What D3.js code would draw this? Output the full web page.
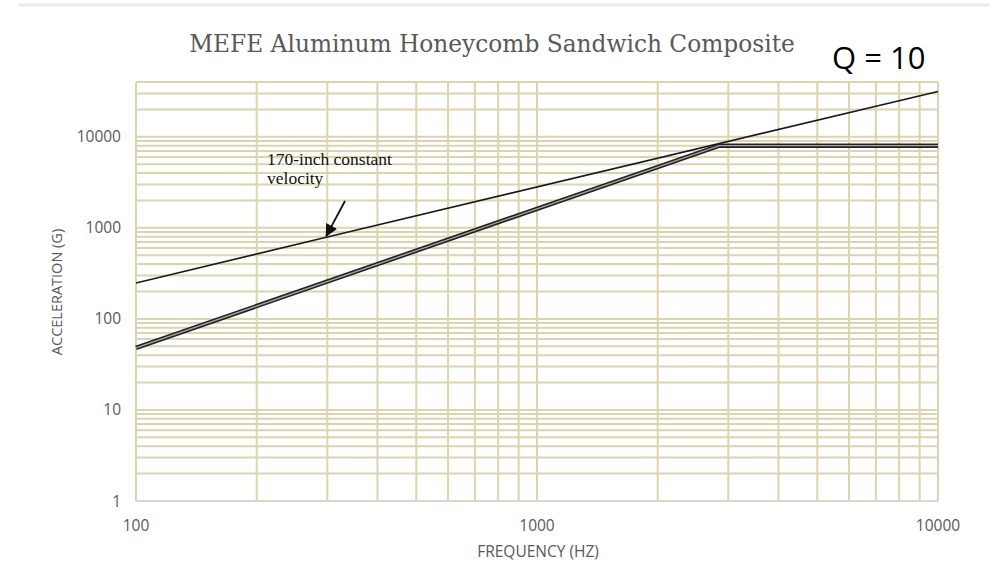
<!DOCTYPE html>
<html>
<head>
<meta charset="utf-8">
<script src="https://cdn.jsdelivr.net/npm/d3@7"></script>
<style>
  body { margin: 0; background: #fff; }
  svg { display: block; }
</style>
</head>
<body>
<svg id="chart" width="992" height="565"></svg>
<script>
// values
const velocityLine = [[100, 248], [300, 795], [10000, 31500]];
const mefeLine = [[100, 48], [1000, 1620], [2850, 8000], [10000, 8000]];
const xTicks = [100, 1000, 10000];
const yTicks = [1, 10, 100, 1000, 10000];
const annotation = ['170-inch constant', 'velocity'];

const svg = d3.select('#chart');
const plotLeft = 136, plotRight = 938, plotTop = 82, plotBottom = 501;

const x = d3.scaleLog().domain([100, 10000]).range([plotLeft, plotRight]);
const y = d3.scaleLog().domain([1, 40000]).range([plotBottom, plotTop]);

// faint rule across the top of the picture
svg.append('line').attr('x1', 18).attr('x2', 990).attr('y1', 5).attr('y2', 5)
  .attr('stroke', '#ececec').attr('stroke-width', 3);

// grid lines on every minor value
const xGrid = [];
for (let d = 100; d < 10000; d *= 10) {
  for (let k = 1; k <= 9; k++) xGrid.push(d * k);
}
xGrid.push(10000);
const yGrid = [];
for (let d = 1; d < 40000; d *= 10) {
  for (let k = 1; k <= 9; k++) if (d * k <= 40000) yGrid.push(d * k);
}

const grid = svg.append('g').attr('stroke', '#ddd3ae').attr('stroke-width', 2);
grid.selectAll('.h').data(yGrid).enter().append('line')
  .attr('x1', plotLeft).attr('x2', plotRight)
  .attr('y1', d => y(d)).attr('y2', d => y(d));
grid.selectAll('.v').data(xGrid).enter().append('line')
  .attr('y1', plotTop).attr('y2', plotBottom)
  .attr('x1', d => x(d)).attr('x2', d => x(d));

// bottom axis rule
svg.append('line').attr('x1', plotLeft).attr('x2', plotRight).attr('y1', plotBottom).attr('y2', plotBottom)
  .attr('stroke', '#d9d9d9').attr('stroke-width', 1.5);

// tick labels
const tickFont = '"Open Sans", sans-serif';
svg.append('g').selectAll('text').data(yTicks).enter().append('text')
  .attr('x', 121).attr('y', d => y(d) + 5.5)
  .attr('text-anchor', 'end').attr('fill', '#595959')
  .style('font', `15.5px ${tickFont}`).text(d => d);
svg.append('g').selectAll('text').data(xTicks).enter().append('text')
  .attr('x', d => x(d)).attr('y', 531)
  .attr('text-anchor', 'middle').attr('fill', '#595959')
  .style('font', `15.5px ${tickFont}`).text(d => d);

// axis titles
svg.append('text').attr('x', 538).attr('y', 557).attr('text-anchor', 'middle')
  .attr('fill', '#595959').style('font', `15.5px ${tickFont}`).text('FREQUENCY (HZ)');
svg.append('text').attr('transform', 'translate(62,292) rotate(-90)').attr('text-anchor', 'middle')
  .attr('fill', '#595959').style('font', `14.5px ${tickFont}`).text('ACCELERATION (G)');

// title and Q label
svg.append('text').attr('x', 492).attr('y', 52).attr('text-anchor', 'middle')
  .attr('fill', '#595959').style('font', '23.3px "DejaVu Serif", serif')
  .text('MEFE Aluminum Honeycomb Sandwich Composite');
svg.append('text').attr('x', 832).attr('y', 69)
  .attr('fill', '#000').style('font', '31px "Open Sans", sans-serif').text('Q = 10');

// lines
const line = d3.line().x(d => x(d[0])).y(d => y(d[1]));
svg.append('path').datum(velocityLine).attr('d', line)
  .attr('fill', 'none').attr('stroke', '#1a1a1a').attr('stroke-width', 1.6);
svg.append('path').datum(mefeLine).attr('d', line)
  .attr('fill', 'none').attr('stroke', '#222').attr('stroke-width', 4.5);
svg.append('path').datum(mefeLine).attr('d', line)
  .attr('fill', 'none').attr('stroke', '#ffffff').attr('stroke-width', 1.3).attr('opacity', 0.6);

// annotation with arrow
svg.append('defs').append('marker').attr('id', 'arrow')
  .attr('viewBox', '0 0 10 10').attr('refX', 9).attr('refY', 5)
  .attr('markerWidth', 7).attr('markerHeight', 7).attr('orient', 'auto')
  .append('path').attr('d', 'M0,0 L10,5 L0,10 Z').attr('fill', '#111');
svg.append('line')
  .attr('x1', 345).attr('y1', 201).attr('x2', x(300) - 1).attr('y2', y(795) - 1)
  .attr('stroke', '#111').attr('stroke-width', 1.8).attr('marker-end', 'url(#arrow)');
svg.append('g').selectAll('text').data(annotation).enter().append('text')
  .attr('x', 267).attr('y', (d, i) => 165 + i * 19)
  .attr('fill', '#111').style('font', '17.5px "Liberation Serif", serif').text(d => d);
</script>
</body>
</html>
